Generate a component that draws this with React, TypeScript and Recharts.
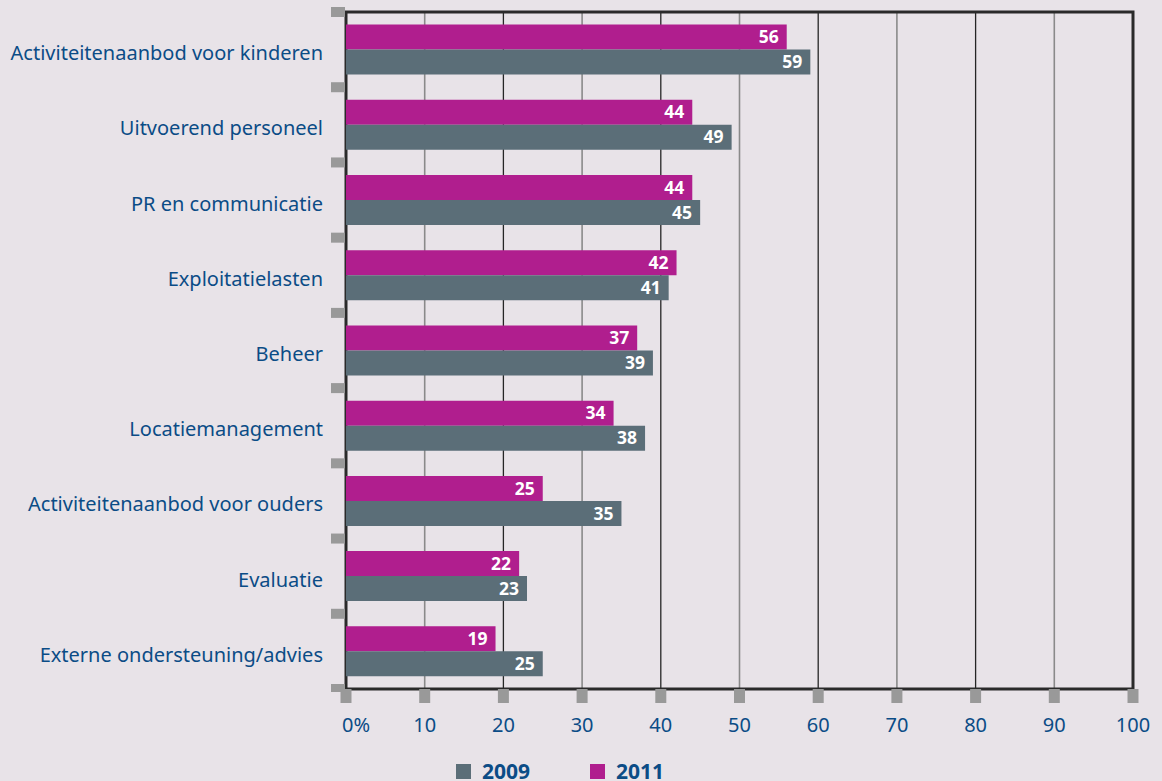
import { BarChart, Bar, XAxis, YAxis, CartesianGrid, LabelList, ReferenceArea } from 'recharts';

const categories = [
  'Activiteitenaanbod voor kinderen',
  'Uitvoerend personeel',
  'PR en communicatie',
  'Exploitatielasten',
  'Beheer',
  'Locatiemanagement',
  'Activiteitenaanbod voor ouders',
  'Evaluatie',
  'Externe ondersteuning/advies',
];
const values2011 = [56, 44, 44, 42, 37, 34, 25, 22, 19];
const values2009 = [59, 49, 45, 41, 39, 38, 35, 23, 25];
const xTicks = [0, 10, 20, 30, 40, 50, 60, 70, 80, 90, 100];
const gridLight = [10, 30, 50, 70, 90];
const gridDark = [20, 40, 60, 80];

const data = categories.map((name, i) => ({ name, y2011: values2011[i], y2009: values2009[i] }));

const W = 1162;
const H = 781;
const M = { top: 12, right: 29, bottom: 42, left: 0 };
const X_AXIS_H = 50;
const Y_AXIS_W = 346;
const PLOT_H = H - M.top - M.bottom - X_AXIS_H;
const HALF_BAND = PLOT_H / categories.length / 2;

const BLUE = '#0b4c86';
const MAGENTA = '#b01e8e';
const SLATE = '#5b6e78';
const MARK = '#999999';
const FONT = '"Noto Sans", "Open Sans", sans-serif';

const gen = (vals: number[]) => (props: any) => {
  const xa = props?.xAxis;
  if (xa && typeof xa.scale === 'function') return vals.map((v) => xa.scale(v));
  const o = props.offset;
  return vals.map((v) => o.left + (v / 100) * o.width);
};

const YTick = (props: any) => {
  const { x, y, payload, index } = props;
  const last = index === categories.length - 1;
  return (
    <g>
      <rect x={x - 15} y={y - HALF_BAND - 5} width={14} height={10} fill={MARK} />
      {last && <rect x={x - 15} y={y + HALF_BAND - 5} width={14} height={8} fill={MARK} />}
      <text x={x - 23} y={y + 3} textAnchor="end" dominantBaseline="central" fill={BLUE} fontSize={20} fontFamily={FONT}>
        {payload.value}
      </text>
    </g>
  );
};

const XTick = (props: any) => {
  const { x, y, payload } = props;
  const zero = payload.value === 0;
  return (
    <g>
      <rect x={x - 5.5} y={y} width={11} height={14} fill={MARK} />
      <text x={zero ? x + 10 : x} y={y + 35} textAnchor="middle" dominantBaseline="central" fill={BLUE} fontSize={20} fontFamily={FONT}>
        {zero ? '0%' : payload.value}
      </text>
    </g>
  );
};

export default function App() {
  return (
    <div style={{ position: 'absolute', left: 0, top: 0, width: W, height: H, background: '#e8e3e8', overflow: 'hidden' }}>
      <BarChart width={W} height={H} data={data} layout="vertical" margin={M} barCategoryGap="16.7%" barGap={0}>
        <CartesianGrid horizontal={false} stroke="#8a8a8a" strokeWidth={1.6} verticalCoordinatesGenerator={gen(gridLight)} />
        <CartesianGrid horizontal={false} stroke="#262626" strokeWidth={1.3} verticalCoordinatesGenerator={gen(gridDark)} />
        <XAxis
          type="number"
          domain={[0, 100]}
          ticks={xTicks}
          height={X_AXIS_H}
          axisLine={false}
          tickLine={false}
          tickSize={0}
          tickMargin={0}
          tick={<XTick />}
          interval={0}
        />
        <YAxis
          type="category"
          dataKey="name"
          width={Y_AXIS_W}
          axisLine={false}
          tickLine={false}
          tickSize={0}
          tickMargin={0}
          tick={<YTick />}
          interval={0}
        />
        <Bar dataKey="y2011" fill={MAGENTA} isAnimationActive={false}>
          <LabelList dataKey="y2011" position="insideRight" offset={8} fill="#ffffff" fontSize={17.5} fontWeight="bold" fontFamily={FONT} />
        </Bar>
        <Bar dataKey="y2009" fill={SLATE} isAnimationActive={false}>
          <LabelList dataKey="y2009" position="insideRight" offset={8} fill="#ffffff" fontSize={17.5} fontWeight="bold" fontFamily={FONT} />
        </Bar>
        <ReferenceArea x1={0} x2={100} fill="none" fillOpacity={0} stroke="#2a2a2a" strokeWidth={3} ifOverflow="visible" />
      </BarChart>
      <div style={{ position: 'absolute', top: 757, left: 456, display: 'flex', alignItems: 'center', fontFamily: FONT, fontWeight: 'bold', fontSize: 21, color: BLUE }}>
        <span style={{ width: 15, height: 15, background: SLATE, display: 'inline-block', marginRight: 11 }} />
        <span style={{ marginRight: 60 }}>2009</span>
        <span style={{ width: 15, height: 15, background: MAGENTA, display: 'inline-block', marginRight: 11 }} />
        <span>2011</span>
      </div>
    </div>
  );
}
